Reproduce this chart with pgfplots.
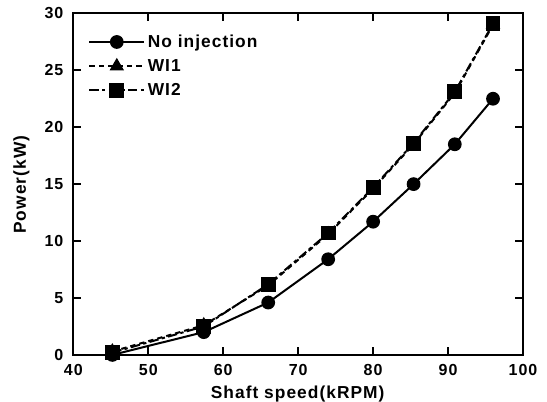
\documentclass[border=0pt]{standalone}
\usepackage{pgfplots}
\pgfplotsset{compat=1.18}
\usepackage{fontspec}
\setmainfont{Liberation Sans}[LetterSpace=6]

\begin{document}
\begin{tikzpicture}
\begin{axis}[
    scale only axis,
    width=337pt, height=256pt,
    xmin=40, xmax=100, ymin=0, ymax=30,
    xtick={40,50,...,100}, ytick={0,5,...,30},
    tick align=inside,
    major tick length=6pt,
    axis line style={line width=1.6pt},
    every tick/.style={line width=1.3pt, black},
    tick label style={font=\bfseries\fontsize{12}{13}\selectfont},
    xticklabel style={yshift=-3.5pt},
    yticklabel style={xshift=-4pt},
    /pgf/number format/assume math mode=true,
    xlabel={\textbf{Shaft speed(kRPM)}},
    ylabel={\textbf{Power(kW)}},
    label style={font=\bfseries\fontsize{13}{14}\selectfont},
    xlabel style={at={(rel axis cs:0.5,0)}, anchor=center, yshift=-29pt},
    ylabel style={at={(rel axis cs:0,0.5)}, anchor=center, yshift=39pt},
    legend style={draw=none, fill=none, at={(rel axis cs:0.03,0.95)}, anchor=north west,
        font=\bfseries\fontsize{13}{17}\selectfont, row sep=3.5pt, inner sep=1pt},
    legend cell align=left,
    legend image code/.code={
        \draw[mark repeat=2, mark phase=2, #1] plot coordinates {(0cm,0cm) (0.72cm,0cm) (1.44cm,0cm)};
    },
    clip=false,
]
\addplot[black, line width=1.5pt, mark=*, mark size=4.4pt] coordinates {
    (45.2,0.0) (57.4,2.0) (66.0,4.6) (74.0,8.4) (80.0,11.7) (85.4,15.0) (90.9,18.5) (96.0,22.5)
};
\addlegendentry{No injection}
\addplot[black, line width=1.5pt, dash pattern=on 4pt off 3pt, mark=triangle*, mark size=4.8pt, mark options={solid}] coordinates {
    (45.2,0.3) (57.4,2.6) (66.0,6.1) (74.0,10.6) (80.0,14.6) (85.4,18.5) (90.9,23.0) (96.0,29.0)
};
\addlegendentry{WI1}
\addplot[black, line width=1.5pt, dash pattern=on 7pt off 2.5pt on 2.5pt off 2.5pt, mark=square*, mark size=4.8pt, mark options={solid}] coordinates {
    (45.2,0.2) (57.4,2.5) (66.0,6.2) (74.0,10.7) (80.0,14.7) (85.4,18.6) (90.9,23.1) (96.0,29.1)
};
\addlegendentry{WI2}
\coordinate (ll) at (rel axis cs:0,0);
\coordinate (ur) at (rel axis cs:1,1);
\end{axis}
\pgfresetboundingbox
\path ([shift={(-55pt,-35pt)}]ll) rectangle ([shift={(18pt,10pt)}]ur);
\end{tikzpicture}
\end{document}
